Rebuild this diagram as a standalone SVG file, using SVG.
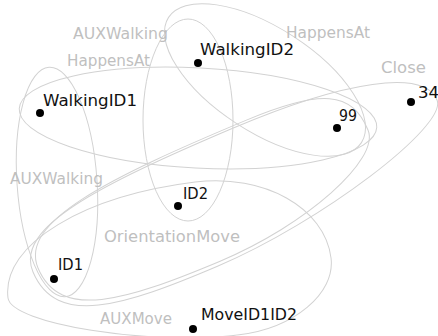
<svg xmlns="http://www.w3.org/2000/svg" width="438" height="336" viewBox="0 0 438 336">
  <style>
    .edge { fill: none; stroke: #d2d2d2; stroke-width: 1; }
    .elabel { font-family: "DejaVu Sans", "Liberation Sans", sans-serif; font-size: 15px; fill: #bfbfbf; }
    .nlabel { font-family: "DejaVu Sans", "Liberation Sans", sans-serif; font-size: 15px; fill: #111111; }
    .dot { fill: #000000; }
  </style>
  <rect width="438" height="336" fill="#ffffff"/>

  <!-- hyperedges: rounded hulls around their member nodes.
       Long hulls are drawn in a local frame: x runs along the axis from the left end. -->
  <g id="edges">
    <ellipse id="e-auxwalking-top" class="edge" cx="188" cy="120" rx="45" ry="101"/>
    <ellipse id="e-happensat-top" class="edge" cx="265" cy="80" rx="115" ry="52" transform="rotate(33 265 80)"/>
    <ellipse id="e-happensat-left" class="edge" cx="198" cy="118" rx="179" ry="50" transform="rotate(3 198 118)"/>
    <ellipse id="e-auxwalking-left" class="edge" cx="57" cy="182" rx="40" ry="115" transform="rotate(-4 57 182)"/>
    <path id="e-close" class="edge" transform="translate(33,272) rotate(-23.06)"
          d="M0,0 C0,-48.6 96,-54 240,-54 C363.4,-54 439.1,-33.5 439.1,0 C439.1,28.1 284.2,67 172,67 C68.8,67 0,60.3 0,0 Z"/>
    <path id="e-orientationmove" class="edge" transform="translate(38,268) rotate(-22.7)"
          d="M0,0 C0,-50 100,-56 250,-56 C330.8,-56 357.7,-42 357.7,0 C357.7,32 263.9,64 170,64 C68,64 0,57.6 0,0 Z"/>
    <path id="e-auxmove" class="edge" transform="translate(8,298) rotate(-7.06)"
          d="M0,0 C0,-55.2 90,-92 200,-92 C269,-92 325.5,-50.6 325.5,0 C325.5,35.8 280.3,65 225,65 C135,65 0,26 0,0 Z"/>

    <text class="elabel" x="73" y="39" textLength="95" lengthAdjust="spacingAndGlyphs">AUXWalking</text>
    <text class="elabel" x="67" y="66" textLength="83" lengthAdjust="spacingAndGlyphs">HappensAt</text>
    <text class="elabel" x="286" y="38" textLength="84" lengthAdjust="spacingAndGlyphs">HappensAt</text>
    <text class="elabel" x="381" y="73" textLength="45" lengthAdjust="spacingAndGlyphs">Close</text>
    <text class="elabel" x="10" y="184" textLength="93" lengthAdjust="spacingAndGlyphs">AUXWalking</text>
    <text class="elabel" x="104" y="242" textLength="136" lengthAdjust="spacingAndGlyphs">OrientationMove</text>
    <text class="elabel" x="100" y="324" textLength="72" lengthAdjust="spacingAndGlyphs">AUXMove</text>
  </g>

  <!-- nodes -->
  <g id="n-walkingid2">
    <circle class="dot" cx="198" cy="63" r="4"/>
    <text class="nlabel" x="200" y="55" textLength="94" lengthAdjust="spacingAndGlyphs">WalkingID2</text>
  </g>
  <g id="n-walkingid1">
    <circle class="dot" cx="40" cy="113" r="4"/>
    <text class="nlabel" x="43" y="106" textLength="94" lengthAdjust="spacingAndGlyphs">WalkingID1</text>
  </g>
  <g id="n-99">
    <circle class="dot" cx="337" cy="128" r="4"/>
    <text class="nlabel" x="339" y="121" textLength="18" lengthAdjust="spacingAndGlyphs">99</text>
  </g>
  <g id="n-34">
    <circle class="dot" cx="411" cy="102" r="4"/>
    <text class="nlabel" x="418" y="98" textLength="21" lengthAdjust="spacingAndGlyphs">34</text>
  </g>
  <g id="n-id2">
    <circle class="dot" cx="178" cy="206" r="4"/>
    <text class="nlabel" x="183" y="199" textLength="25" lengthAdjust="spacingAndGlyphs">ID2</text>
  </g>
  <g id="n-id1">
    <circle class="dot" cx="54" cy="279" r="4"/>
    <text class="nlabel" x="58" y="270" textLength="25" lengthAdjust="spacingAndGlyphs">ID1</text>
  </g>
  <g id="n-moveid1id2">
    <circle class="dot" cx="193" cy="329" r="4"/>
    <text class="nlabel" x="201" y="320" textLength="96" lengthAdjust="spacingAndGlyphs">MoveID1ID2</text>
  </g>
</svg>
